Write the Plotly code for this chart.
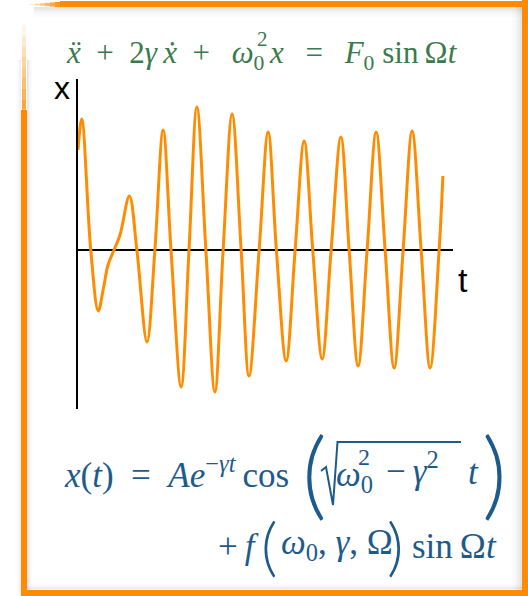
import plotly.graph_objects as go

# Displacement of a driven, damped oscillator: start-up transient, then steady forcing
t_vals = [0.00, 0.10, 0.34, 0.54, 0.68, 0.80, 0.96, 1.12, 1.37, 1.57,
          1.84, 2.05, 2.27, 2.48, 2.75, 2.96, 3.17, 3.41, 3.65, 3.87,
          4.11, 4.35, 4.56, 4.83, 5.07, 5.29, 5.55, 5.79, 6.03, 6.26,
          6.51, 6.75, 7.01, 7.23, 7.47, 7.71, 7.95, 8.19, 8.43, 8.67,
          8.91, 9.15, 9.39, 9.63, 9.73]
x_vals = [1.00, 1.31, 0.00, -0.61, -0.38, -0.15, 0.00, 0.15, 0.54, 0.00,
          -0.92, 0.00, 1.20, 0.00, -1.37, 0.00, 1.43, 0.00, -1.42, 0.00,
          1.36, 0.00, -1.26, 0.00, 1.18, 0.00, -1.11, 0.00, 1.09, 0.00,
          -1.09, 0.00, 1.13, 0.00, -1.16, 0.00, 1.18, 0.00, -1.18, 0.00,
          1.19, 0.00, -1.18, 0.00, 0.74]

t_range = [0, 10]
x_range = [-1.59, 1.71]

SP = "\u2002"   # en space, for math-style spacing around operators
TH = "\u2009"   # thin space
axis_labels = ["x", "t"]
# equation of motion, split where ω has both a subscript and a stacked superscript
eom_left = f"<i>ẍ</i>{SP}+{SP}2<i>γ</i>{TH}<i>ẋ</i>{SP}+{SP}{TH}<i>ω</i><sub>0</sub>"
eom_exp = "2"
eom_right = f"<i>x</i>{SP}{TH}={SP}{TH}<i>F</i><sub>0</sub> sin{TH}Ω<i>t</i>"
# general solution
sol_head = f"<i>x</i>(<i>t</i>){SP}={SP}<i>Ae</i><sup>−<i>γt</i></sup>{TH}cos"
sol_root_a = "<i>ω</i><sub>0</sub>"
sol_root_exp = "2"
sol_root_b = f"{TH}−{TH}<i>γ</i><sup>2</sup>"
sol_t = "<i>t</i>"
sol_plus = f"+{TH}<i>f</i>"
sol_args = "<i>ω</i><sub>0</sub>, <i>γ</i>, Ω"
sol_tail = f"sin{TH}Ω<i>t</i>"

W, H = 528, 596
L, R, T, B = 78, 453, 79, 409          # plot area in pixels
ORANGE = "#ff8c00"
GREEN = "#3b7a4c"
BLUE = "#1d5b8c"
SERIF = "Liberation Serif, Times New Roman, DejaVu Serif, serif"
SANS = "Liberation Sans, Arial, sans-serif"
DELIM = "Lato, Liberation Serif, serif"


def px(xp):
    return (xp - L) / (R - L)


def py(yp):
    return (B - yp) / (B - T)


fig = go.Figure()
fig.add_trace(go.Scatter(
    x=t_vals, y=x_vals, mode="lines",
    line=dict(color=ORANGE, width=3, shape="spline", smoothing=1.0),
    hoverinfo="skip",
))

shapes = []


def rect(x0, y0, x1, y1, color, opacity=1.0):
    shapes.append(dict(type="rect", xref="paper", yref="paper",
                       x0=px(x0), x1=px(x1), y0=py(y0), y1=py(y1),
                       fillcolor=color, opacity=opacity, line=dict(width=0),
                       layer="above"))


# inner shadow of the frame
for i, a in enumerate([0.10, 0.07, 0.045, 0.025, 0.012]):
    rect(34, 7 + 2 * i, 522, 9 + 2 * i, "black", a)          # under top bar
    rect(520 - 2 * i, 7, 522 - 2 * i, 590, "black", a)       # inside right bar
    rect(27 + i, 60, 28 + i, 590, "black", a)                # inside left bar
    rect(27, 588 - i, 522, 589 - i, "black", a * 0.8)        # above bottom bar
    rect(20 - i, 60, 21 - i, 596, "black", a * 0.6)          # outside left bar

# orange frame
rect(60, 1, 528, 7, ORANGE)
for k in range(6):
    rect(30 + 5 * k, 2 + 0.4 * (5 - k), 35 + 5 * k, 7 - 0.4 * (5 - k), ORANGE, 0.2 + 0.14 * k)
rect(522, 0, 528, 596, ORANGE)
rect(21, 590, 528, 596, ORANGE)
rect(21, 110, 27, 596, ORANGE)
for k in range(8):
    rect(22, 25 + 10.6 * k, 26, 25 + 10.6 * (k + 1), ORANGE, 0.08 + 0.1 * k)

# radical sign with its vinculum
radical = [(321, 471), (326, 467), (333, 505), (337.5, 442), (461, 442)]
path = "M " + " L ".join(f"{px(a):.5f},{py(b):.5f}" for a, b in radical)
shapes.append(dict(type="path", xref="paper", yref="paper", path=path,
                   line=dict(color=BLUE, width=2)))

annotations = []


def text(s, x, y, size, color, family=SERIF, xanchor="left", weight=None):
    font = dict(size=size, color=color, family=family)
    if weight is not None:
        font["weight"] = weight
    annotations.append(dict(text=s, x=px(x), y=py(y), xref="paper", yref="paper",
                            xanchor=xanchor, yanchor="middle", showarrow=False,
                            font=font))


text(axis_labels[0], 62, 88, 32, "black", SANS, "center")
text(axis_labels[1], 463, 280, 34, "black", SANS, "center")

text(eom_left, 267, 55, 31, GREEN, xanchor="right")
text(eom_exp, 262, 39, 21, GREEN, xanchor="center")
text(eom_right, 267, 55, 31, GREEN)

text(sol_head, 62, 472, 35, BLUE)
text("(", 300, 470, 96, BLUE, DELIM, weight=300)
text(sol_root_a, 334, 476, 35, BLUE)
text(sol_root_exp, 364, 457, 24, BLUE, xanchor="center")
text(sol_root_b, 377, 468, 35, BLUE)
text(sol_t, 466, 472, 35, BLUE)
text(")", 480, 470, 96, BLUE, DELIM, weight=300)

text(sol_plus, 216, 546, 35, BLUE)
text("(", 259, 544, 64, BLUE, DELIM, weight=300)
text(sol_args, 279, 544, 35, BLUE)
text(")", 385, 544, 64, BLUE, DELIM, weight=300)
text(sol_tail, 410, 546, 35, BLUE)

fig.update_layout(
    width=W, height=H,
    margin=dict(l=L, r=W - R, t=T, b=H - B, pad=0),
    paper_bgcolor="white", plot_bgcolor="white",
    showlegend=False,
    shapes=shapes, annotations=annotations,
    xaxis=dict(range=t_range, showgrid=False, zeroline=False, showline=False,
               showticklabels=False, ticks="", fixedrange=True),
    yaxis=dict(range=x_range, showgrid=False, showline=True, linecolor="black",
               linewidth=2, zeroline=True, zerolinecolor="black", zerolinewidth=2,
               showticklabels=False, ticks="", fixedrange=True),
)

fig.write_html("out.html", config=dict(displayModeBar=False))
